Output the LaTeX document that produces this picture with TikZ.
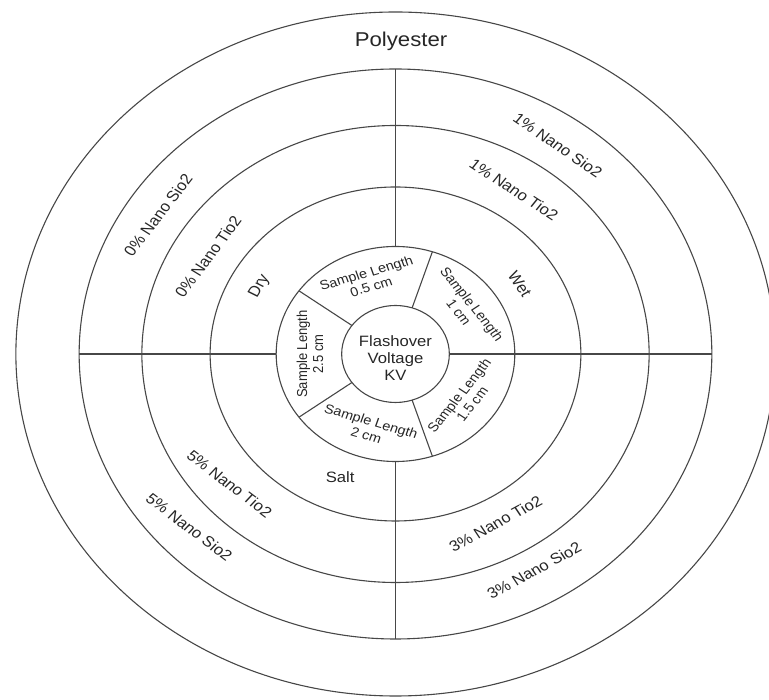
\documentclass[tikz,border=0pt]{standalone}
\usepackage{fontspec}
\setmainfont{Liberation Sans}
\begin{document}
\begin{tikzpicture}[x=1pt,y=1pt]
\useasboundingbox (-395.5,-346) rectangle (373.5,354);
\clip (-395.5,-346) rectangle (373.5,354);
\def\rA{342}\def\rB{285}\def\rC{228.5}\def\rD{167}\def\rE{107.5}\def\rF{48.5}
\begin{scope}[xscale=1.11, line width=1.1pt, draw=black!72,
  every node/.style={transform shape, text=black!85, inner sep=0pt, align=center},
  big/.style={font=\fontsize{20}{24}\selectfont},
  ring/.style={font=\fontsize{15}{17}\selectfont},
  small/.style={font=\fontsize{13}{14.5}\selectfont}]
\coordinate (O) at (0,0);
% rings
\draw (O) circle[radius=\rA];
\draw (O) circle[radius=\rB];
\draw (O) circle[radius=\rC];
\draw (O) circle[radius=\rD];
\draw (O) circle[radius=\rE];
\draw (O) circle[radius=\rF];
% quadrant dividers
\coordinate (t1) at (90:\rE); \coordinate (t2) at (90:\rB);
\coordinate (b1) at (-90:\rE); \coordinate (b2) at (-90:\rB);
\coordinate (l1) at (180:\rE); \coordinate (l2) at (180:\rB);
\coordinate (r1) at (0:\rF); \coordinate (r2) at (0:\rB);
\draw (t1) -- (t2);
\draw (b1) -- (b2);
\draw (l1) -- (l2);
\draw (r1) -- (r2);
% sample dividers
\foreach \a in {72,144,216,288}{
  \draw (\a:\rF) -- (\a:\rE);
}
% labels
\node[big] (poly) at (5,313) {Polyester};
\node[ring,rotate=-37] (s1) at (55:255) {1\% Nano Sio2};
\node[ring,rotate=-36] (t1l) at (57:196) {1\% Nano Tio2};
\node[ring,rotate=55] (s0) at (147:255) {0\% Nano Sio2};
\node[ring,rotate=56] (t0) at (150:195) {0\% Nano Tio2};
\node[ring,rotate=-40] (s5) at (-137:254) {5\% Nano Sio2};
\node[ring,rotate=-40] (t5) at (-139:198) {5\% Nano Tio2};
\node[ring,rotate=31] (s3) at (-60:250) {3\% Nano Sio2};
\node[ring,rotate=31] (t3) at (-62:192) {3\% Nano Tio2};
\node[ring,rotate=61] (dry) at (151:140) {Dry};
\node[ring,rotate=-58] (wet) at (32:132) {Wet};
\node[ring] (salt) at (-112:133) {Salt};
\node[small,rotate=18] (L05) at (108:78) {Sample Length\\0.5 cm};
\node[small,rotate=-54] (L1) at (36:78) {Sample Length\\1 cm};
\node[small,rotate=54] (L15) at (-36:78) {Sample Length\\1.5 cm};
\node[small,rotate=-18] (L2) at (-108:78) {Sample Length\\2 cm};
\node[small,rotate=90] (L25) at (180:77) {Sample Length\\2.5 cm};
\node[ring] (fv) at (0,-4) {Flashover\\Voltage\\KV};
\end{scope}
\end{tikzpicture}
\end{document}
